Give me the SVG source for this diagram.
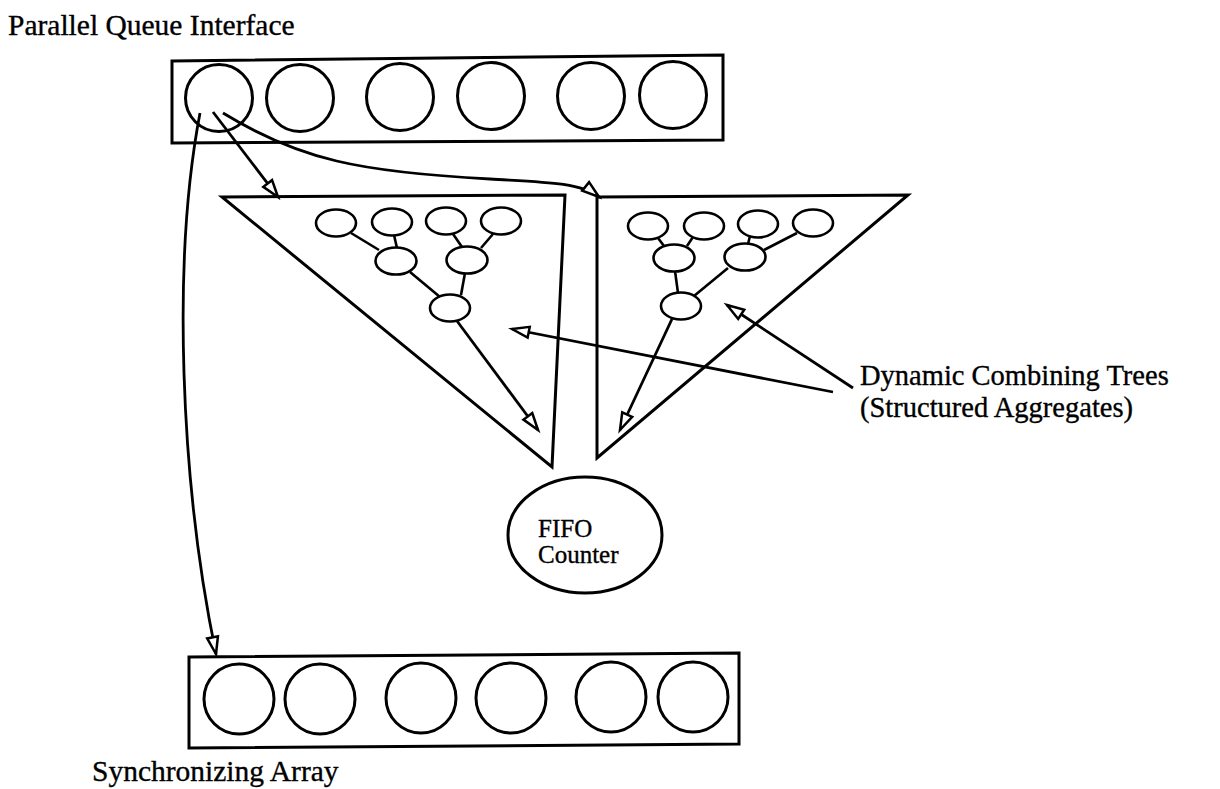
<svg xmlns="http://www.w3.org/2000/svg" width="1220" height="789" viewBox="0 0 1220 789">
  <style>
    .box { fill: none; stroke: #000; stroke-width: 3; stroke-linejoin: miter; }
    .cell { fill: none; stroke: #000; stroke-width: 3; }
    .tn { fill: #fff; stroke: #000; stroke-width: 2.6; }
    .edge { fill: none; stroke: #000; stroke-width: 2.6; }
    .arr { fill: none; stroke: #000; stroke-width: 2.8; marker-end: url(#open-arrow); }
    text { font-family: "Liberation Serif", "Times New Roman", serif; fill: #000; stroke: #000; stroke-width: 0.35; }
    .lbl { font-size: 29.5px; }
    .lbl-r { font-size: 28.5px; }
    .small { font-size: 25px; }
  </style>
  <defs>
    <marker id="open-arrow" markerUnits="userSpaceOnUse" markerWidth="24" markerHeight="16" viewBox="-21 -8 24 16" refX="0" refY="0" orient="auto" overflow="visible">
      <path d="M0,0 L-17,-5.5 L-17,5.5 Z" fill="#fff" stroke="#000" stroke-width="2.5"/>
    </marker>
  </defs>

  <!-- queue interface: six slots in a frame -->
  <g id="queue-interface">
    <polygon class="box" points="172,61 723,55 723,140 172,143"/>
    <circle class="cell" cx="219" cy="98" r="33.5"/>
    <circle class="cell" cx="300" cy="98" r="33.5"/>
    <circle class="cell" cx="400" cy="97" r="33.5"/>
    <circle class="cell" cx="491" cy="96" r="33.5"/>
    <circle class="cell" cx="591" cy="96" r="33.5"/>
    <circle class="cell" cx="673" cy="95" r="33.5"/>
  </g>
  <g id="label-queue"><text class="lbl" x="8" y="35">Parallel Queue Interface</text></g>

  <!-- left combining tree -->
  <g id="tree-left">
    <polygon class="box" points="222,197 565,195 552,467"/>
    <ellipse class="tn" cx="336" cy="223" rx="20" ry="13.5"/>
    <ellipse class="tn" cx="392" cy="222" rx="20" ry="13.5"/>
    <ellipse class="tn" cx="446" cy="221" rx="20" ry="13.5"/>
    <ellipse class="tn" cx="501" cy="221" rx="20" ry="13.5"/>
    <ellipse class="tn" cx="396" cy="261" rx="20.5" ry="13.5"/>
    <ellipse class="tn" cx="467" cy="260" rx="20.5" ry="13.5"/>
    <ellipse class="tn" cx="450" cy="308" rx="20" ry="13.5"/>
  </g>

  <!-- right combining tree -->
  <g id="tree-right">
    <polygon class="box" points="597,197 908,195 597,458"/>
    <ellipse class="tn" cx="648" cy="226" rx="20" ry="13.5"/>
    <ellipse class="tn" cx="704" cy="226" rx="20" ry="13.5"/>
    <ellipse class="tn" cx="758" cy="224" rx="20" ry="13.5"/>
    <ellipse class="tn" cx="813" cy="223" rx="20" ry="13.5"/>
    <ellipse class="tn" cx="674" cy="258" rx="20.5" ry="13.5"/>
    <ellipse class="tn" cx="745" cy="257" rx="20.5" ry="13.5"/>
    <ellipse class="tn" cx="681" cy="306" rx="20" ry="13.5"/>
  </g>

  <!-- FIFO counter -->
  <g id="fifo-counter">
    <ellipse class="cell" cx="585" cy="535" rx="77" ry="58"/>
    <text class="small" x="538" y="537">FIFO</text>
    <text class="small" x="538" y="563">Counter</text>
  </g>

  <!-- synchronizing array -->
  <g id="sync-array">
    <polygon class="box" points="189,657 739,653 739,744 189,748"/>
    <circle class="cell" cx="239" cy="699" r="35"/>
    <circle class="cell" cx="320" cy="699" r="35"/>
    <circle class="cell" cx="421" cy="698" r="35"/>
    <circle class="cell" cx="511" cy="698" r="35"/>
    <circle class="cell" cx="611" cy="697" r="35"/>
    <circle class="cell" cx="693" cy="697" r="35"/>
  </g>
  <g id="label-sync"><text class="lbl" x="92" y="781">Synchronizing Array</text></g>

  <g id="label-trees">
    <text class="lbl-r" x="860" y="385">Dynamic Combining Trees</text>
    <text class="lbl-r" x="860" y="417">(Structured Aggregates)</text>
  </g>

  <!-- connectors -->
  <g id="connectors">
    <!-- tree edges, left -->
    <line class="edge" x1="351" y1="233" x2="379" y2="250"/>
    <line class="edge" x1="394" y1="235" x2="397" y2="248"/>
    <line class="edge" x1="453" y1="234" x2="462" y2="247"/>
    <line class="edge" x1="493" y1="234" x2="481" y2="248"/>
    <line class="edge" x1="410" y1="272" x2="440" y2="297"/>
    <line class="edge" x1="465" y1="273" x2="461" y2="295"/>
    <!-- tree edges, right -->
    <line class="edge" x1="658" y1="238" x2="664" y2="246"/>
    <line class="edge" x1="693" y1="237" x2="687" y2="246"/>
    <line class="edge" x1="750" y1="236" x2="748" y2="244"/>
    <line class="edge" x1="797" y1="233" x2="764" y2="250"/>
    <line class="edge" x1="675" y1="271" x2="678" y2="293"/>
    <line class="edge" x1="728" y1="268" x2="694" y2="296"/>
    <!-- tree roots to the counter -->
    <line class="arr" x1="457" y1="321" x2="538" y2="430"/>
    <line class="arr" x1="672" y1="319" x2="620" y2="430"/>
    <!-- label pointers -->
    <line class="arr" x1="833" y1="392" x2="512" y2="329"/>
    <line class="arr" x1="853" y1="388" x2="727" y2="305"/>
    <!-- from the first queue slot -->
    <line class="arr" x1="213" y1="112" x2="278" y2="197"/>
    <path class="arr" d="M223,113 C300,160 360,172 490,179 C540,182 580,182 599,197"/>
    <path class="arr" d="M200,113 C172,260 180,480 216,654"/>
  </g>
</svg>
